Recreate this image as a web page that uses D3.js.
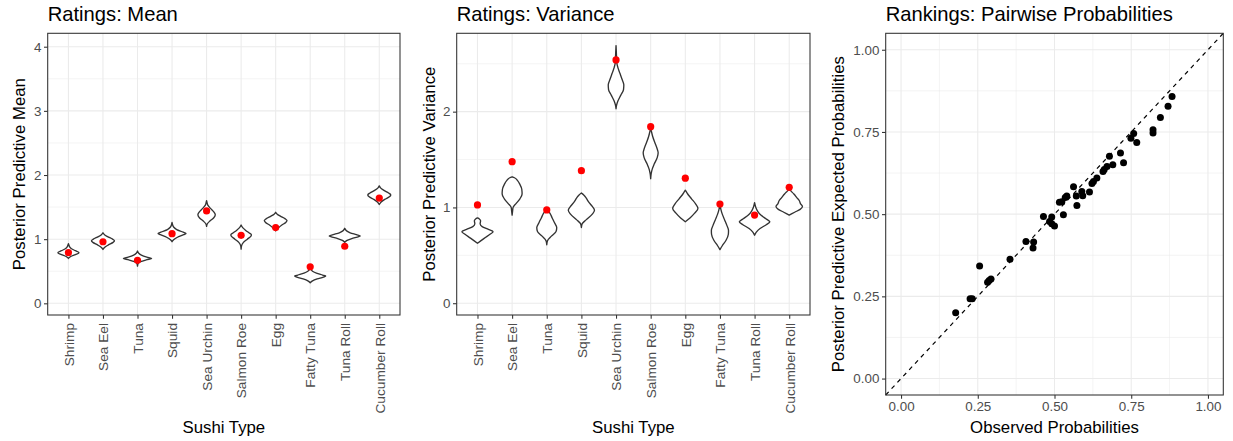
<!DOCTYPE html>
<html><head><meta charset="utf-8">
<script src="https://cdn.jsdelivr.net/npm/d3@7"></script>
<style>
body{margin:0;background:#fff}
text{font-family:"Liberation Sans",Arial,Helvetica,sans-serif}
</style>
</head><body>
<svg id="chart" width="1233" height="441"></svg>
<script>
// ---------- DATA ----------
const sushiTypes = ["Shrimp","Sea Eel","Tuna","Squid","Sea Urchin","Salmon Roe","Egg","Fatty Tuna","Tuna Roll","Cucumber Roll"];

// observed statistics (red points)
const meanObserved = [0.79,0.96,0.67,1.085,1.44,1.06,1.18,0.57,0.89,1.64];
const varianceObserved = [1.026,1.478,0.974,1.384,2.54,1.843,1.305,1.036,0.92,1.21];

// posterior predictive violins: [value, relative density width]
const meanViolins = [
  [[0.70,0],[0.73,0.15],[0.76,0.45],[0.79,0.68],[0.82,0.45],[0.85,0.2],[0.88,0.08],[0.91,0.03],[0.93,0]],
  [[0.84,0],[0.87,0.1],[0.91,0.35],[0.95,0.65],[0.975,0.74],[1.0,0.62],[1.04,0.3],[1.07,0.1],[1.10,0]],
  [[0.58,0],[0.62,0.04],[0.65,0.2],[0.68,0.6],[0.70,0.91],[0.72,0.6],[0.75,0.25],[0.78,0.08],[0.815,0]],
  [[0.96,0],[0.99,0.1],[1.03,0.35],[1.07,0.75],[1.09,0.9],[1.11,0.72],[1.15,0.3],[1.19,0.1],[1.23,0.03],[1.26,0]],
  [[1.20,0],[1.24,0.05],[1.28,0.2],[1.33,0.45],[1.38,0.56],[1.43,0.45],[1.48,0.25],[1.53,0.08],[1.57,0.03],[1.60,0]],
  [[0.845,0],[0.90,0.03],[0.95,0.15],[1.00,0.4],[1.05,0.64],[1.07,0.66],[1.10,0.5],[1.14,0.28],[1.18,0.1],[1.22,0]],
  [[1.13,0],[1.17,0.15],[1.22,0.4],[1.26,0.65],[1.29,0.73],[1.32,0.6],[1.36,0.3],[1.39,0.1],[1.42,0]],
  [[0.32,0],[0.35,0.15],[0.38,0.45],[0.41,0.85],[0.425,1.0],[0.44,0.8],[0.47,0.4],[0.50,0.15],[0.54,0]],
  [[0.95,0],[0.98,0.15],[1.01,0.45],[1.04,0.9],[1.05,1.0],[1.07,0.75],[1.10,0.35],[1.13,0.12],[1.17,0]],
  [[1.54,0],[1.58,0.12],[1.62,0.35],[1.66,0.65],[1.69,0.74],[1.72,0.6],[1.76,0.3],[1.80,0.08],[1.83,0]]
];
const varianceViolins = [
  [[0.626,0],[0.68,0.45],[0.72,0.8],[0.747,1.0],[0.77,0.7],[0.80,0.3],[0.83,0.17],[0.86,0.2],[0.88,0.12],[0.89,0]],
  [[0.92,0],[0.96,0.03],[1.0,0.06],[1.04,0.25],[1.09,0.5],[1.14,0.64],[1.19,0.62],[1.24,0.5],[1.28,0.35],[1.31,0.15],[1.32,0]],
  [[0.61,0],[0.65,0.04],[0.70,0.3],[0.75,0.6],[0.79,0.64],[0.84,0.5],[0.89,0.35],[0.94,0.2],[0.98,0]],
  [[0.79,0],[0.83,0.05],[0.87,0.3],[0.93,0.7],[0.97,0.84],[1.01,0.7],[1.06,0.45],[1.10,0.3],[1.13,0.15],[1.15,0]],
  [[2.03,0],[2.07,0.04],[2.11,0.12],[2.17,0.3],[2.23,0.48],[2.28,0.5],[2.34,0.38],[2.40,0.25],[2.46,0.12],[2.52,0.04],[2.58,0.03],[2.69,0]],
  [[1.30,0],[1.35,0.03],[1.40,0.1],[1.45,0.22],[1.52,0.42],[1.57,0.48],[1.62,0.4],[1.68,0.26],[1.74,0.13],[1.80,0.04],[1.83,0]],
  [[0.85,0],[0.89,0.3],[0.94,0.6],[0.99,0.81],[1.04,0.65],[1.09,0.4],[1.13,0.2],[1.16,0.08],[1.18,0]],
  [[0.56,0],[0.60,0.15],[0.66,0.4],[0.72,0.54],[0.76,0.55],[0.81,0.45],[0.87,0.3],[0.93,0.15],[0.98,0.06],[1.04,0]],
  [[0.71,0],[0.74,0.1],[0.78,0.35],[0.82,0.75],[0.85,0.98],[0.88,0.75],[0.92,0.4],[0.96,0.2],[1.0,0.08],[1.05,0]],
  [[0.92,0],[0.95,0.35],[0.98,0.7],[1.01,0.85],[1.04,0.72],[1.07,0.65],[1.10,0.5],[1.14,0.3],[1.17,0.12],[1.19,0]]
];

// pairwise probabilities
const observedProb = [0.178,0.225,0.232,0.256,0.282,0.287,0.293,0.355,0.407,0.430,0.432,0.464,0.484,0.491,0.491,0.500,0.516,0.524,0.529,0.535,0.540,0.562,0.571,0.573,0.589,0.592,0.614,0.622,0.627,0.638,0.658,0.662,0.671,0.679,0.690,0.715,0.725,0.749,0.758,0.768,0.821,0.821,0.845,0.870,0.883];
const predictedProb = [0.200,0.243,0.243,0.342,0.293,0.298,0.303,0.363,0.417,0.397,0.415,0.493,0.478,0.491,0.471,0.464,0.536,0.538,0.498,0.551,0.555,0.583,0.555,0.526,0.569,0.556,0.567,0.593,0.599,0.610,0.630,0.636,0.645,0.676,0.650,0.686,0.656,0.731,0.745,0.718,0.757,0.747,0.794,0.828,0.858];

const meanTicks = [0,1,2,3,4];
const meanMinor = [0.5,1.5,2.5,3.5];
const varTicks = [0,1,2];
const varMinor = [0.5,1.5,2.5];
const probTicks = [0,0.25,0.5,0.75,1];
const probMinor = [0.125,0.375,0.625,0.875];

// ---------- DRAW ----------
const svg = d3.select("#chart");
const GRID = "#ebebeb", INK = "#333333", TICKTXT = "#4d4d4d";
const TICK_FS = "13.4px", TITLE_AX_FS = "16.8px", TITLE_FS = "20.2px";

function styleAxis(g){
  g.select(".domain").remove();
  g.selectAll(".tick line").attr("stroke", INK).attr("stroke-width", 1.07);
  g.selectAll(".tick text").attr("fill", TICKTXT).style("font-size", TICK_FS).style("font-family",'"Liberation Sans",Arial,sans-serif');
}

function violinPanel(opt){
  const {left,right,top,bottom,yDomain,ticks,minor,violins,observed,title,yTitle,yTitleX} = opt;
  const g = svg.append("g");
  const x = d3.scalePoint().domain(sushiTypes).range([left,right]).padding(0.6);
  const y = d3.scaleLinear().domain(yDomain).range([bottom,top]);
  g.selectAll(".ymin").data(minor).join("line").attr("x1",left).attr("x2",right)
    .attr("y1",d=>y(d)).attr("y2",d=>y(d)).attr("stroke",GRID).attr("stroke-width",0.53);
  g.selectAll(".ymaj").data(ticks).join("line").attr("x1",left).attr("x2",right)
    .attr("y1",d=>y(d)).attr("y2",d=>y(d)).attr("stroke",GRID).attr("stroke-width",1.07);
  g.selectAll(".xmaj").data(sushiTypes).join("line").attr("x1",d=>x(d)).attr("x2",d=>x(d))
    .attr("y1",top).attr("y2",bottom).attr("stroke",GRID).attr("stroke-width",1.07);
  const hw = 0.45 * x.step();
  violins.forEach((prof,i)=>{
    const cx = x(sushiTypes[i]);
    const area = d3.area().curve(d3.curveMonotoneY)
      .y(d=>y(d[0])).x0(d=>cx - d[1]*hw).x1(d=>cx + d[1]*hw);
    g.append("path").attr("d", area(prof.slice().reverse()))
      .attr("fill","#fff").attr("stroke",INK).attr("stroke-width",1.35).attr("stroke-linejoin","round");
  });
  g.selectAll(".pt").data(observed).join("circle")
    .attr("cx",(d,i)=>x(sushiTypes[i])).attr("cy",d=>y(d)).attr("r",3.6).attr("fill","#ff0000");
  g.append("rect").attr("x",left).attr("y",top).attr("width",right-left).attr("height",bottom-top)
    .attr("fill","none").attr("stroke",INK).attr("stroke-width",1.07);
  const ya = g.append("g").attr("transform",`translate(${left},0)`)
    .call(d3.axisLeft(y).tickValues(ticks).tickFormat(d3.format("d")).tickSize(3.7).tickPadding(2.6));
  styleAxis(ya);
  const xa = g.append("g").attr("transform",`translate(0,${bottom})`)
    .call(d3.axisBottom(x).tickSize(3.7));
  styleAxis(xa);
  xa.selectAll(".tick text").attr("y",0).attr("x",-8).attr("dy","0.35em")
    .attr("transform","rotate(-90)").style("text-anchor","end").style("font-size","13.7px");
  g.append("text").attr("x",left).attr("y",21).text(title).style("font-size",TITLE_FS).attr("fill","#000");
  g.append("text").attr("transform",`translate(${yTitleX},${(top+bottom)/2}) rotate(-90)`)
    .attr("text-anchor","middle").text(yTitle).style("font-size",TITLE_AX_FS).attr("fill","#000");
  g.append("text").attr("x",(left+right)/2).attr("y",433).attr("text-anchor","middle")
    .text("Sushi Type").style("font-size",TITLE_AX_FS).attr("fill","#000");
}

violinPanel({left:47.7,right:400,top:33.3,bottom:315,yDomain:[-0.182,4.209],ticks:meanTicks,minor:meanMinor,
  violins:meanViolins,observed:meanObserved,title:"Ratings: Mean",yTitle:"Posterior Predictive Mean",yTitleX:25});
violinPanel({left:456.7,right:810,top:33.3,bottom:315,yDomain:[-0.123,2.818],ticks:varTicks,minor:varMinor,
  violins:varianceViolins,observed:varianceObserved,title:"Ratings: Variance",yTitle:"Posterior Predictive Variance",yTitleX:435});

(function(){
  const left=885.7,right=1223.3,top=33.3,bottom=395;
  const g = svg.append("g");
  const x = d3.scaleLinear().domain([-0.05,1.05]).range([left,right]);
  const y = d3.scaleLinear().domain([-0.05,1.05]).range([bottom,top]);
  g.selectAll(".xmin").data(probMinor).join("line").attr("x1",d=>x(d)).attr("x2",d=>x(d))
    .attr("y1",top).attr("y2",bottom).attr("stroke",GRID).attr("stroke-width",0.53);
  g.selectAll(".ymin").data(probMinor).join("line").attr("y1",d=>y(d)).attr("y2",d=>y(d))
    .attr("x1",left).attr("x2",right).attr("stroke",GRID).attr("stroke-width",0.53);
  g.selectAll(".xmaj").data(probTicks).join("line").attr("x1",d=>x(d)).attr("x2",d=>x(d))
    .attr("y1",top).attr("y2",bottom).attr("stroke",GRID).attr("stroke-width",1.07);
  g.selectAll(".ymaj").data(probTicks).join("line").attr("y1",d=>y(d)).attr("y2",d=>y(d))
    .attr("x1",left).attr("x2",right).attr("stroke",GRID).attr("stroke-width",1.07);
  g.selectAll(".pt").data(observedProb).join("circle")
    .attr("cx",d=>x(d)).attr("cy",(d,i)=>y(predictedProb[i])).attr("r",3.5).attr("fill","#000");
  g.append("line").attr("x1",x(-0.05)).attr("y1",y(-0.05)).attr("x2",x(1.05)).attr("y2",y(1.05))
    .attr("stroke","#000").attr("stroke-width",1.2).attr("stroke-dasharray","4.3,4.3");
  g.append("rect").attr("x",left).attr("y",top).attr("width",right-left).attr("height",bottom-top)
    .attr("fill","none").attr("stroke",INK).attr("stroke-width",1.07);
  const fmt = d3.format(".2f");
  const ya = g.append("g").attr("transform",`translate(${left},0)`)
    .call(d3.axisLeft(y).tickValues(probTicks).tickFormat(fmt).tickSize(3.7).tickPadding(2.6));
  styleAxis(ya);
  const xa = g.append("g").attr("transform",`translate(0,${bottom})`)
    .call(d3.axisBottom(x).tickValues(probTicks).tickFormat(fmt).tickSize(3.7).tickPadding(2.6));
  styleAxis(xa);
  g.append("text").attr("x",left).attr("y",21).text("Rankings: Pairwise Probabilities").style("font-size",TITLE_FS).attr("fill","#000");
  g.append("text").attr("transform",`translate(844,${(top+bottom)/2}) rotate(-90)`)
    .attr("text-anchor","middle").text("Posterior Predictive Expected Probabilities").style("font-size",TITLE_AX_FS).attr("fill","#000");
  g.append("text").attr("x",(left+right)/2).attr("y",433).attr("text-anchor","middle")
    .text("Observed Probabilities").style("font-size",TITLE_AX_FS).attr("fill","#000");
})();
</script>
</body></html>
